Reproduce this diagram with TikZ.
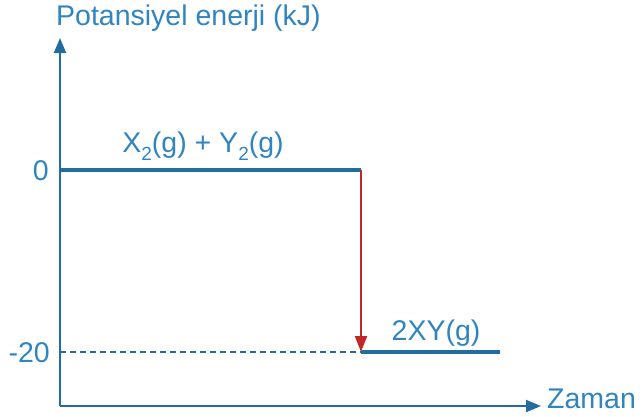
\documentclass[tikz,border=0pt]{standalone}
\usepackage{fontspec}
\setmainfont{Liberation Sans}
\usetikzlibrary{arrows.meta}
\definecolor{axisblue}{RGB}{35,108,160}
\definecolor{textblue}{RGB}{48,132,192}
\definecolor{arrred}{RGB}{192,40,40}
\newcommand{\subtwo}{\raisebox{-0.28em}{\fontsize{19}{20}\selectfont 2}}
\tikzset{
  lbl/.style={text=textblue, inner sep=0pt, font=\fontsize{28.5}{31}\selectfont},
  axisline/.style={draw=axisblue, line width=2pt, -{Triangle[length=15pt,width=12pt]}},
  levelline/.style={draw=axisblue, line width=3.5pt},
  dropline/.style={draw=arrred, line width=2pt, -{Triangle[length=16pt,width=12pt]}},
  guideline/.style={draw=axisblue, line width=1.2pt, dash pattern=on 6pt off 4pt},
}
\begin{document}
\begin{tikzpicture}[x=1pt,y=-1pt]
\useasboundingbox (0,0) rectangle (644,416);
\coordinate (O) at (60,406);
\coordinate (ytip) at (60,38);
\coordinate (xtip) at (541,406);
\coordinate (l0a) at (60,170);
\coordinate (l0b) at (361,170);
\coordinate (l1a) at (361,352);
\coordinate (l1b) at (500,352);
\coordinate (d0) at (60,352);
\draw[axisline] (O) -- (ytip);
\draw[axisline] (O) -- (xtip);
\draw[levelline] (l0a) -- (l0b);
\draw[guideline] (d0) -- (l1a);
\draw[dropline] (l0b) -- (l1a);
\draw[levelline] (l1a) -- (l1b);
\node[lbl, anchor=west] (ylab) at (56,18) {Potansiyel enerji (kJ)};
\node[lbl, anchor=west] (xlab) at (547,399) {Zaman};
\node[lbl, anchor=east] (zero) at (49,171) {0};
\node[lbl, anchor=east] (m20) at (50,353) {-20};
\node[lbl] (react) at (203,146) {X\subtwo(g) + Y\subtwo(g)};
\node[lbl] (prod) at (436,333) {2XY(g)};
\end{tikzpicture}
\end{document}
